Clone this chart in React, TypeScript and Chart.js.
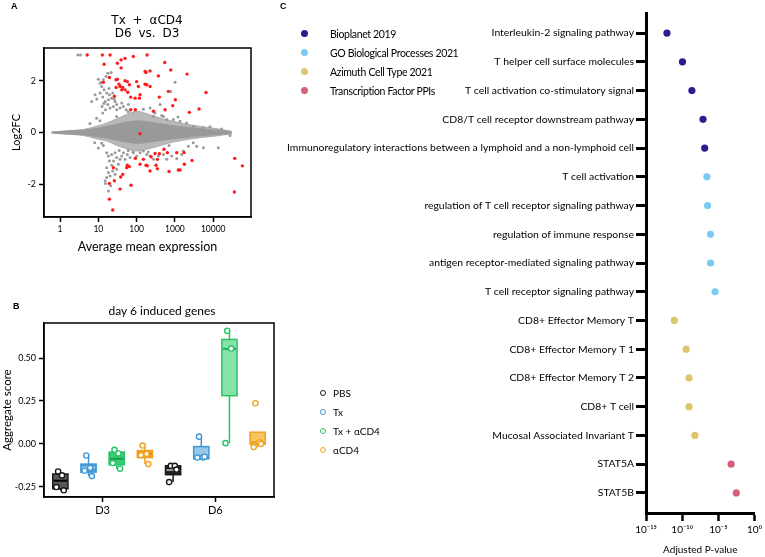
import React, { useEffect, useRef } from 'react';
import { Chart, registerables } from 'chart.js';
Chart.register(...registerables);

// ---------------- Panel A: MA plot ----------------
const maTitle = ['Tx + αCD4', 'D6 vs. D3'];
const maXTicks = [1, 10, 100, 1000, 10000];
const maYTicks = [-2, 0, 2];
// dense core of non-significant genes: expression, upper / lower Log2FC envelope (outer fringe and inner dense part)
const coreExpr = [0.6, 1.5, 4.1, 9.1, 16.6, 30, 55, 100, 183, 335, 745, 1660, 4520, 10000, 30400];
const coreUpper = [0.02, 0.07, 0.12, 0.25, 0.37, 0.53, 0.7, 0.82, 0.73, 0.6, 0.46, 0.35, 0.24, 0.17, 0.05];
const coreLower = [-0.02, -0.07, -0.12, -0.25, -0.33, -0.5, -0.63, -0.72, -0.65, -0.55, -0.4, -0.3, -0.2, -0.15, -0.05];
const denseUpper = [0.015, 0.05, 0.09, 0.16, 0.24, 0.32, 0.4, 0.45, 0.42, 0.36, 0.28, 0.22, 0.15, 0.1, 0.03];
const denseLower = [-0.015, -0.05, -0.09, -0.16, -0.22, -0.3, -0.37, -0.42, -0.39, -0.33, -0.26, -0.2, -0.13, -0.09, -0.03];
// scattered non-significant genes [expression, Log2FC]
const grayGenes: [number, number][] = [
  [2.9, 3.0], [3.4, 3.0],
  [10, 2.06], [11.7, 1.94], [13.5, 2.04], [15.9, 2.17], [17.6, 2.29], [21.5, 2.32], [11.1, 1.91], [12.2, 1.78],
  [14.1, 1.65], [16.5, 1.53], [19.4, 1.46], [22.3, 1.33], [11.1, 1.53], [13, 1.37], [15, 1.2], [17.6, 1.08],
  [20.2, 0.95], [24.7, 1.01], [27.3, 1.2], [30.1, 1.08], [12.5, 1.01], [15.3, 0.88], [6.7, 1.2], [9.1, 1.3],
  [18.3, 1.27], [23.7, 1.53], [30.1, 0.88], [36.9, 0.95], [45.1, 1.01], [52.9, 0.88], [60.8, 1.08], [40.8, 1.14],
  [8.2, 1.46], [14, 1.12], [19, 1.7], [26, 1.3], [13, 0.75], [9, 0.55], [6, 0.35], [11, 0.45],
  [1006, 1.94], [776, 1.59], [451, 0.66], [910, 0.5], [1358, 0.44], [2028, 0.37], [3030, 0.22], [5520, 0.18],
  [8240, 0.22], [16600, 0.14], [22500, -0.04], [27500, -0.12], [13600, -0.59], [5520, -0.59], [3700, -0.53],
  [2244, -0.53], [1660, -0.72], [610, 0.5], [274, 0.63], [224, 0.95], [408, 1.08], [1200, 0.6], [3000, -0.4],
  [30, 0.62], [60, 0.8], [150, 0.9], [300, 0.75], [80, -0.75], [200, -0.75], [500, 0.62], [700, -0.5],
  [16.5, -0.78], [18.3, -0.91], [19.4, -1.1], [22.3, -1.27], [16.5, -1.36], [18.3, -1.55], [20.2, -1.68],
  [16.5, -1.74], [15, -1.87], [23.7, -1.49], [27.3, -1.62], [30.1, -1.42], [33.3, -1.23], [36.9, -1.04],
  [40.8, -0.91], [45.1, -0.78], [27.3, -0.78], [30.1, -0.97], [22.3, -0.85], [49.8, -1.04], [57, -0.85],
  [67.3, -0.97], [82, -0.78], [100, -0.91], [123, -0.78], [150, -0.72], [183, -0.85], [224, -0.91], [274, -1.04],
  [369, -0.91], [499, -0.85], [610, -1.04], [824, -0.91], [1114, -1.01], [1503, -0.85], [21, -2.06], [18.3, -2.26],
  [15.3, -1.97], [25, -1.1], [35, -0.7], [60, -0.7], [13.5, -0.5], [12.2, -0.42], [10, -0.6], [8, -0.4],
];
// significant genes [expression, Log2FC]
const redGenes: [number, number][] = [
  [5.1, 3.0], [12.7, 3.0], [20.2, 3.0], [187, 3.0],
  [14.1, 2.64], [31.4, 2.68], [39.2, 2.81], [49.8, 2.87], [82, 2.94], [39.2, 2.5], [541, 2.71], [776, 2.42],
  [2070, 2.26], [166, 2.36], [176, 2.32], [224, 2.38], [369, 2.19],
  [19.4, 2.13], [13.5, 1.94], [31.4, 2.06], [29, 2.04], [34.7, 1.87], [36.9, 1.78], [29, 1.74], [43.3, 1.74],
  [57, 1.97], [49.8, 2.0], [64.6, 1.85], [58.5, 1.56], [40.8, 1.65], [49.8, 1.65], [100, 1.97], [111, 1.78],
  [166, 1.87], [183, 1.85], [224, 1.78], [123, 1.46], [91, 1.33], [118, 1.33], [70, 1.37], [26.2, 1.4],
  [70, 0.88], [92.6, 0.88], [392, 1.37], [1024, 1.27], [875, 1.04], [552, 0.88], [274, 0.82], [673, 1.59],
  [6490, 1.55], [4260, 0.91], [2380, 0.78], [123, -0.05],
  [92.6, -1.0], [519, -0.65], [392, -0.82], [302, -0.81], [634, -0.78], [1114, -0.78], [1730, -0.78],
  [150, -1.04], [238, -0.94], [348, -1.04], [123, -1.23], [190, -1.29], [321, -1.27], [348, -1.4], [57, -1.27],
  [64.6, -1.32], [55, -1.36], [176, -1.27], [224, -1.49], [701, -1.51], [1228, -1.45], [1358, -1.45],
  [1762, -1.23], [2795, -1.08], [24.7, -1.36], [26.2, -1.87], [19.4, -1.97], [38.4, -1.72], [43.3, -1.62],
  [36.9, -2.19], [71.4, -2.04], [19.4, -2.58], [23.7, -3.0], [36400, -1.0], [57700, -1.29], [35600, -2.3],
];

// ---------------- Panel B: box plots ----------------
const bTitle = 'day 6 induced genes';
const days = ['D3', 'D6'];
const treatments = ['PBS', 'Tx', 'Tx + αCD4', 'αCD4'];
const bYTicks = [-0.25, 0, 0.25, 0.5];
// [min, q1, median, q3, max] per day, per treatment
const boxStatsD3 = [
  [-0.271, -0.262, -0.215, -0.176, -0.161],
  [-0.188, -0.165, -0.138, -0.118, -0.068],
  [-0.145, -0.122, -0.087, -0.048, -0.035],
  [-0.118, -0.08, -0.058, -0.039, -0.01],
];
const boxStatsD6 = [
  [-0.223, -0.18, -0.153, -0.128, -0.128],
  [-0.085, -0.087, -0.08, -0.016, 0.042],
  [0.004, 0.281, 0.554, 0.609, 0.659],
  [-0.019, -0.002, 0.009, 0.068, 0.068],
];
// individual sample scores
const scoresD3 = [
  [-0.161, -0.184, -0.252, -0.271],
  [-0.068, -0.14, -0.157, -0.188],
  [-0.035, -0.056, -0.112, -0.145],
  [-0.01, -0.058, -0.066, -0.118],
];
const scoresD6 = [
  [-0.128, -0.128, -0.223, -0.15],
  [0.042, -0.08, -0.08, -0.075],
  [0.659, 0.556, 0.004],
  [0.237, 0.009, -0.019, 0.0],
];

// ---------------- Panel C: enrichment ----------------
const cSources = ['Bioplanet 2019', 'GO Biological Processes 2021', 'Azimuth Cell Type 2021', 'Transcription Factor PPIs'];
const cTerms = [
  'Interleukin-2 signaling pathway',
  'T helper cell surface molecules',
  'T cell activation co-stimulatory signal',
  'CD8/T cell receptor downstream pathway',
  'Immunoregulatory interactions between a lymphoid and a non-lymphoid cell',
  'T cell activation',
  'regulation of T cell receptor signaling pathway',
  'regulation of immune response',
  'antigen receptor-mediated signaling pathway',
  'T cell receptor signaling pathway',
  'CD8+ Effector Memory T',
  'CD8+ Effector Memory T 1',
  'CD8+ Effector Memory T 2',
  'CD8+ T cell',
  'Mucosal Associated Invariant T',
  'STAT5A',
  'STAT5B',
];
const cTermSource = [0, 0, 0, 0, 0, 1, 1, 1, 1, 1, 2, 2, 2, 2, 2, 3, 3];
const cPValues = [
  7.9e-13, 1.1e-10, 2.2e-9, 7.6e-8, 1.3e-7,
  2.6e-7, 3.2e-7, 8.3e-7, 8.3e-7, 3.5e-6,
  8.3e-12, 3.5e-10, 8.9e-10, 8.9e-10, 5.8e-9,
  5.8e-4, 3.0e-3,
];
const cXTicks = [1e-15, 1e-10, 1e-5, 1];
const cXTickLabels = ['10⁻¹⁵', '10⁻¹⁰', '10⁻⁵', '10⁰'];

// ---------------- styles ----------------
const FONT = 'Lato';
const srcColors = ['#2c1a8e', '#7ccaf2', '#ddc76e', '#d6607a'];
const trtStroke = ['#1a1a1a', '#3f98d8', '#28c466', '#f0a21e'];
const fillD3 = ['#585858', '#4a9bd4', '#35cc72', '#f0a52c'];
const fillD6 = ['#202020', '#98c9ea', '#86e2a9', '#f6c560'];
const medianD3 = ['#000000', '#a8d2ef', '#1b9e4e', '#c77f10'];
const medianD6 = ['#9a9a9a', '#3f98d8', '#1fae58', '#e0a030'];
const jitter = [-0.02, 0.015, -0.035, 0.03];

const framePlugin = {
  id: 'frame',
  afterDraw(chart: any, _a: any, opts: any) {
    if (!opts || !opts.show) return;
    const { left, top, right, bottom } = chart.chartArea;
    const ctx = chart.ctx;
    ctx.save();
    ctx.strokeStyle = '#000';
    ctx.lineWidth = opts.width || 1.5;
    ctx.strokeRect(left, top, right - left, bottom - top);
    ctx.restore();
  },
};

const boxPlugin = {
  id: 'boxes',
  beforeDatasetsDraw(chart: any, _a: any, opts: any) {
    if (!opts || !opts.show) return;
    const xs = chart.scales.x, ys = chart.scales.y, ctx = chart.ctx;
    const half = (xs.getPixelForValue(0.135) - xs.getPixelForValue(0)) / 2;
    [boxStatsD3, boxStatsD6].forEach((stats, d) => {
      stats.forEach((s, g) => {
        const cx = xs.getPixelForValue(d + (g - 1.5) * 0.25);
        const [mn, q1, md, q3, mx] = s.map((v: number) => ys.getPixelForValue(v));
        ctx.save();
        ctx.strokeStyle = trtStroke[g];
        ctx.lineWidth = 1.5;
        ctx.beginPath();
        ctx.moveTo(cx, q3); ctx.lineTo(cx, mx);
        ctx.moveTo(cx, q1); ctx.lineTo(cx, mn);
        ctx.stroke();
        ctx.fillStyle = d === 0 ? fillD3[g] : fillD6[g];
        ctx.fillRect(cx - half, q3, half * 2, q1 - q3);
        ctx.strokeRect(cx - half, q3, half * 2, q1 - q3);
        ctx.strokeStyle = d === 0 ? medianD3[g] : medianD6[g];
        ctx.lineWidth = 2;
        ctx.beginPath();
        ctx.moveTo(cx - half + 1, md); ctx.lineTo(cx + half - 1, md);
        ctx.stroke();
        ctx.restore();
      });
    });
  },
};

const axisStyle = (tickLen: number, width = 1.5) => ({
  grid: { display: true, drawOnChartArea: false, drawTicks: true, tickLength: tickLen, tickColor: '#000', tickWidth: width },
  border: { display: true, color: '#000', width },
});

const envelope = (ys: number[], fill: any, color: string) => ({
  data: coreExpr.map((x, i) => ({ x, y: ys[i] })), showLine: true, fill, backgroundColor: color,
  borderColor: color, borderWidth: 1, pointRadius: 0, tension: 0.35,
});

function makeA(): any {
  return {
    type: 'scatter',
    data: {
      datasets: [
        { data: redGenes.map(([x, y]) => ({ x, y })), pointRadius: 1.7, pointBackgroundColor: '#ff1a1a', pointBorderWidth: 0 },
        { data: grayGenes.map(([x, y]) => ({ x, y })), pointRadius: 1.5, pointBackgroundColor: '#9a9a9a', pointBorderWidth: 0 },
        envelope(denseUpper, '+1', '#999999'),
        envelope(denseLower, false, '#999999'),
        envelope(coreUpper, '+1', 'rgba(160,160,160,0.75)'),
        envelope(coreLower, false, 'rgba(160,160,160,0.75)'),
      ],
    },
    options: {
      responsive: false, animation: false, events: [],
      layout: { padding: { top: 48, right: 11, left: 0, bottom: 0 } },
      plugins: { legend: { display: false }, tooltip: { enabled: false }, frame: { show: true, width: 1.5 } },
      scales: {
        x: {
          type: 'logarithmic', min: 0.38, max: 97000,
          afterBuildTicks: (s: any) => { s.ticks = maXTicks.map((v) => ({ value: v })); },
          afterFit: (s: any) => { s.height = 45; },
          ticks: { color: '#000', font: { family: FONT, size: 8.5 }, padding: 2, maxRotation: 0, autoSkip: false, callback: (v: any) => String(v) },
          title: { display: true, text: 'Average mean expression', color: '#000', font: { family: FONT, size: 12.5 }, padding: { top: 0, bottom: 8 } },
          ...axisStyle(5),
        },
        y: {
          type: 'linear', min: -3.27, max: 3.27,
          afterBuildTicks: (s: any) => { s.ticks = maYTicks.map((v) => ({ value: v })); },
          afterFit: (s: any) => { s.width = 44; },
          ticks: { color: '#000', font: { family: FONT, size: 9 }, padding: 3, callback: (v: any) => String(v) },
          title: { display: true, text: 'Log2FC', color: '#000', font: { family: FONT, size: 11 }, padding: { top: 10, bottom: 0 } },
          ...axisStyle(5),
        },
      },
    },
    plugins: [framePlugin],
  };
}

function makeB(): any {
  const datasets: any[] = [];
  [scoresD3, scoresD6].forEach((sc, d) => {
    sc.forEach((vals, g) => {
      datasets.push({
        data: vals.map((v, k) => ({ x: d + (g - 1.5) * 0.25 + jitter[k % jitter.length], y: v })),
        pointRadius: 2.6, pointBorderWidth: 1.4, pointBorderColor: trtStroke[g], pointBackgroundColor: '#ffffff',
      });
    });
  });
  return {
    type: 'scatter',
    data: { datasets },
    options: {
      responsive: false, animation: false, events: [],
      layout: { padding: { top: 33, right: 8, left: 0, bottom: 0 } },
      plugins: { legend: { display: false }, tooltip: { enabled: false }, frame: { show: true, width: 1.5 }, boxes: { show: true } },
      scales: {
        x: {
          type: 'linear', min: -0.52, max: 1.52,
          afterBuildTicks: (s: any) => { s.ticks = days.map((_, i) => ({ value: i })); },
          afterFit: (s: any) => { s.height = 25; },
          ticks: { color: '#000', font: { family: FONT, size: 11 }, padding: 2, callback: (v: any) => days[v] ?? '' },
          ...axisStyle(5),
        },
        y: {
          type: 'linear', min: -0.31, max: 0.705,
          afterBuildTicks: (s: any) => { s.ticks = bYTicks.map((v) => ({ value: v })); },
          afterFit: (s: any) => { s.width = 44; },
          ticks: { color: '#000', font: { family: FONT, size: 9 }, padding: 3, callback: (v: any) => Number(v).toFixed(2) },
          title: { display: true, text: 'Aggregate score', color: '#000', font: { family: FONT, size: 11.5 }, padding: { top: 0, bottom: 0 } },
          ...axisStyle(5),
        },
      },
    },
    plugins: [framePlugin, boxPlugin],
  };
}

function makeC(): any {
  const datasets = cSources.map((_, s) => ({
    data: cTerms.map((_, i) => i).filter((i) => cTermSource[i] === s).map((i) => ({ x: cPValues[i], y: i + 1 })),
    pointRadius: 3.6, pointBorderWidth: 0, pointBackgroundColor: srcColors[s],
  }));
  return {
    type: 'scatter',
    data: { datasets },
    options: {
      responsive: false, animation: false, events: [],
      layout: { padding: { top: 13, right: 8, left: 0, bottom: 0 } },
      plugins: { legend: { display: false }, tooltip: { enabled: false } },
      scales: {
        x: {
          type: 'logarithmic', min: 1e-15, max: 1,
          afterBuildTicks: (s: any) => { s.ticks = cXTicks.map((v) => ({ value: v })); },
          afterFit: (s: any) => { s.height = 44; },
          ticks: { color: '#000', font: { family: FONT, size: 10 }, padding: 3, maxRotation: 0, autoSkip: false, callback: (_v: any, i: number) => cXTickLabels[i] },
          title: { display: true, text: 'Adjusted P-value', color: '#000', font: { family: FONT, size: 10 }, padding: { top: 0, bottom: 1 } },
          grid: { display: true, drawOnChartArea: false, drawTicks: true, tickLength: 8, tickColor: '#000', tickWidth: 2.5 },
          border: { display: true, color: '#000', width: 3 },
        },
        y: {
          type: 'linear', reverse: true, min: 0.3, max: 17.7,
          afterBuildTicks: (s: any) => { s.ticks = cTerms.map((_, i) => ({ value: i + 1 })); },
          afterFit: (s: any) => { s.width = 376; },
          ticks: { color: '#000', font: { family: FONT, size: 10.4 }, padding: 2, autoSkip: false, callback: (v: any) => cTerms[Math.round(v) - 1] ?? '' },
          grid: { display: true, drawOnChartArea: false, drawTicks: true, tickLength: 10, tickColor: '#000', tickWidth: 3 },
          border: { display: true, color: '#000', width: 3 },
        },
      },
    },
  };
}

function ChartCanvas({ make, left, top, width, height }: any) {
  const ref = useRef<HTMLCanvasElement>(null);
  useEffect(() => {
    const chart = new Chart(ref.current as HTMLCanvasElement, make());
    return () => chart.destroy();
  }, []);
  return <canvas ref={ref} width={width} height={height} style={{ position: 'absolute', left, top, width, height }} />;
}

function T({ x, y, children, size = 11, align = 'left', weight = 400, family = FONT, spacing = 0, letter = 0 }: any) {
  const tx = align === 'center' ? '-50%' : align === 'right' ? '-100%' : '0';
  return (
    <div style={{ position: 'absolute', left: x, top: y, transform: `translate(${tx},-50%)`, fontSize: size, fontFamily: family, fontWeight: weight, color: '#000', whiteSpace: 'nowrap', lineHeight: 1, wordSpacing: spacing, letterSpacing: letter }}>
      {children}
    </div>
  );
}

export default function App() {
  return (
    <div style={{ position: 'fixed', left: 0, top: 0, width: 765, height: 557, background: '#fff', overflow: 'hidden' }}>
      <ChartCanvas make={makeA} left={0} top={0} width={262} height={262} />
      <ChartCanvas make={makeB} left={0} top={290} width={282} height={232} />
      <ChartCanvas make={makeC} left={270} top={0} width={495} height={557} />

      <T x={11} y={6} size={9} weight={700} family="Liberation Sans">A</T>
      <T x={13} y={306} size={9} weight={700} family="Liberation Sans">B</T>
      <T x={280} y={6} size={9} weight={700} family="Liberation Sans">C</T>

      <T x={147} y={20} size={12} align="center" family="DejaVu Sans" spacing={3}>{maTitle[0]}</T>
      <T x={147} y={33} size={12} align="center" family="DejaVu Sans" spacing={3}>{maTitle[1]}</T>
      <T x={162} y={311} size={12} align="center">{bTitle}</T>

      {treatments.map((t, i) => (
        <React.Fragment key={t}>
          <div style={{ position: 'absolute', left: 320, top: 390 + i * 19, width: 4, height: 4, borderRadius: '50%', border: `1.5px solid ${trtStroke[i]}`, background: '#fff' }} />
          <T x={333} y={393 + i * 19} size={10}>{t}</T>
        </React.Fragment>
      ))}

      {cSources.map((s, i) => (
        <React.Fragment key={s}>
          <div style={{ position: 'absolute', left: 301, top: 30 + i * 19, width: 7, height: 7, borderRadius: '50%', background: srcColors[i] }} />
          <T x={330} y={34 + i * 19} size={10.5} letter={-0.35}>{s}</T>
        </React.Fragment>
      ))}
    </div>
  );
}
